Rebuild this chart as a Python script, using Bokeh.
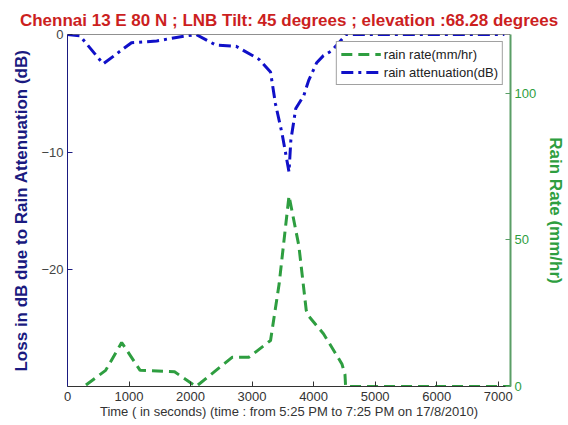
from bokeh.plotting import figure
from bokeh.models import Range1d, LinearAxis, Legend, LegendItem, Span, FixedTicker
from bokeh.embed import file_html
from bokeh.resources import INLINE

# Data
t_att = [0, 200, 580, 1040, 1450, 1770, 2090, 2410, 2740, 3110, 3300, 3380, 3490,
         3600, 3630, 3710, 3840, 3920, 4050, 4160, 4290, 4480, 4520, 7100]
att_db = [0, -0.1, -2.5, -0.7, -0.55, -0.25, 0, -0.9, -1.0, -2.1, -3.2, -5.9, -8.5,
          -11.7, -9.0, -6.3, -5.2, -3.9, -2.4, -1.8, -1.4, -0.3, 0, 0]

t_rain = [300, 620, 880, 1180, 1740, 2090, 2680, 2950, 3300, 3440, 3600, 3760, 3880,
          3920, 4160, 4460, 4510, 4520, 7200]
rain_rate = [0.5, 5.5, 15, 5.5, 5, 0, 10, 10, 15.7, 35, 65, 48, 26, 24, 18, 7.7, 4, 0, 0]

x_ticks = [0, 1000, 2000, 3000, 4000, 5000, 6000, 7000]
left_ticks = [0, -10, -20]
right_ticks = [0, 50, 100]

title = "Chennai 13 E 80 N ; LNB Tilt: 45 degrees ; elevation :68.28 degrees"
xlabel = "Time ( in seconds) (time : from 5:25 PM to 7:25 PM on 17/8/2010)"
ylabel_left = "Loss in dB due to Rain Attenuation (dB)"
ylabel_right = "Rain Rate (mm/hr)"

FONT = "Liberation Sans"
BLUE = "#1010c8"
GREEN = "#2e9e40"
NAVY = "#1a1a80"
RED = "#cc1f1f"

p = figure(width=568, height=425, output_backend="svg", toolbar_location=None,
           x_range=Range1d(0, 7200), y_range=Range1d(-29.95, 0),
           min_border_left=67, min_border_right=55, min_border_top=34, min_border_bottom=39)
p.extra_y_ranges = {"rain": Range1d(0, 120)}

p.title.text = title
p.title.text_font = FONT
p.title.text_font_size = "17px"
p.title.text_font_style = "bold"
p.title.text_color = RED
p.title.align = "center"
p.title.offset = 0
p.title.standoff = 10

p.grid.visible = False
p.outline_line_color = None
p.background_fill_color = "white"
p.border_fill_color = "white"

# Bottom axis
xa = p.xaxis[0]
xa.ticker = FixedTicker(ticks=x_ticks)
xa.axis_label = xlabel
xa.axis_label_text_font = FONT
xa.axis_label_text_font_size = "13px"
xa.axis_label_text_font_style = "normal"
xa.axis_label_text_color = "#333333"
xa.axis_label_standoff = 0
xa.major_label_text_font = FONT
xa.major_label_text_font_size = "13px"
xa.major_label_text_color = "#333333"
xa.major_label_standoff = 5
xa.axis_line_color = "#333333"
xa.major_tick_line_color = "#333333"
xa.major_tick_in = 5
xa.major_tick_out = 0
xa.minor_tick_line_color = None

# Left axis
ya = p.yaxis[0]
ya.ticker = FixedTicker(ticks=left_ticks)
ya.axis_label = ylabel_left
ya.axis_label_text_font = FONT
ya.axis_label_text_font_size = "17px"
ya.axis_label_text_font_style = "bold"
ya.axis_label_text_color = NAVY
ya.axis_label_standoff = 7
ya.major_label_text_font = FONT
ya.major_label_text_font_size = "13px"
ya.major_label_text_color = "#444444"
ya.major_label_standoff = 4
ya.axis_line_color = NAVY
ya.major_tick_line_color = NAVY
ya.major_tick_in = 5
ya.major_tick_out = 0
ya.minor_tick_line_color = None

# Right axis
ra = LinearAxis(y_range_name="rain", ticker=FixedTicker(ticks=right_ticks))
ra.axis_label = ylabel_right
ra.axis_label_text_font = FONT
ra.axis_label_text_font_size = "17px"
ra.axis_label_text_font_style = "bold"
ra.axis_label_text_color = GREEN
ra.axis_label_standoff = 7
ra.major_label_text_font = FONT
ra.major_label_text_font_size = "13px"
ra.major_label_text_color = GREEN
ra.major_label_standoff = 4
ra.axis_line_color = "#5a9e66"
ra.axis_line_width = 2
ra.major_tick_line_color = "#5a9e66"
ra.major_tick_in = 5
ra.major_tick_out = 0
ra.minor_tick_line_color = None
p.add_layout(ra, "right")

# top border of the box
p.add_layout(Span(location=0, dimension="width", line_color="#222222", line_width=1))

r_rain = p.line(t_rain, rain_rate, y_range_name="rain", line_color=GREEN, line_width=3,
                line_dash="11 6")
r_att = p.line(t_att, att_db, line_color=BLUE, line_width=3, line_dash="12 5 3 5")

legend = Legend(items=[LegendItem(label="rain rate(mm/hr)", renderers=[r_rain]),
                       LegendItem(label="rain attenuation(dB)", renderers=[r_att])],
                location="top_right")
legend.label_text_font = FONT
legend.label_text_font_size = "13px"
legend.label_text_color = "#222222"
legend.glyph_width = 40
legend.glyph_height = 16
legend.label_standoff = 3
legend.spacing = 2
legend.padding = 4
legend.margin = 7
legend.border_line_color = "#444444"
legend.border_line_width = 1
legend.background_fill_alpha = 1
p.add_layout(legend)

open("out.html", "w").write(file_html(p, INLINE))
